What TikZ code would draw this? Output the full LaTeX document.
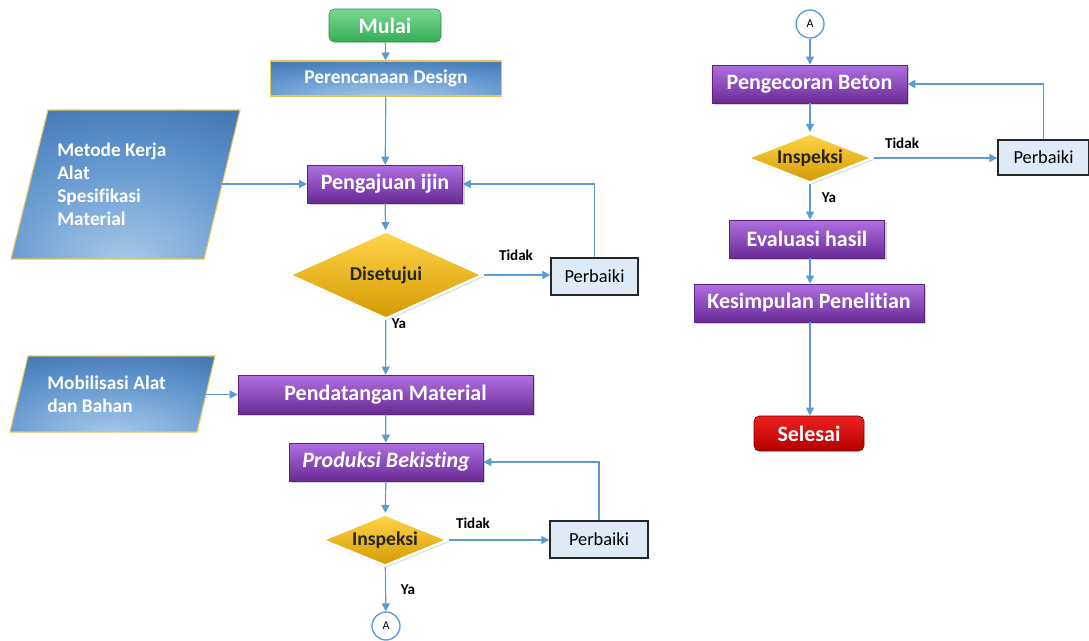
\documentclass[tikz,border=0pt]{standalone}
\usepackage{fontspec}
\setmainfont{Carlito}[Ligatures=NoCommon]
\usetikzlibrary{shapes.geometric,arrows.meta,shadows,calc}
\definecolor{arr}{HTML}{5B9BD5}
\definecolor{purpT}{HTML}{B070E2}
\definecolor{purpB}{HTML}{6A2A94}
\definecolor{goldT}{HTML}{FFD54A}
\definecolor{goldB}{HTML}{D49A00}
\definecolor{blueIn}{HTML}{A9CCEB}
\definecolor{blueMid}{HTML}{5E93CC}
\definecolor{blueOut}{HTML}{2C5D9A}
\definecolor{fixbg}{HTML}{DEEBF7}
\definecolor{greenT}{HTML}{7ADA92}
\definecolor{greenB}{HTML}{35AC55}
\definecolor{redT}{HTML}{F02020}
\definecolor{redB}{HTML}{B00000}
\definecolor{edgeY}{HTML}{E3C65A}
\pgfdeclareradialshading{blueglow}{\pgfpoint{0bp}{-28bp}}{color(0bp)=(blueIn); color(30bp)=(blueMid); color(62bp)=(blueOut); color(100bp)=(blueOut)}
\begin{document}
\begin{tikzpicture}[x=0.75pt,y=-0.75pt,
  a/.style={draw=arr,line width=0.9pt,-{Triangle[length=6pt,width=6pt]}},
  glow/.style={shading=blueglow,draw=edgeY,line width=0.8pt},
  proc/.style={rectangle,minimum height=28.5pt,inner sep=0pt,top color=purpT,bottom color=purpB,
    draw=purpB!85!black,line width=0.5pt,text=white,font=\bfseries\fontsize{16.5}{19}\selectfont,
    drop shadow={opacity=0.35,shadow xshift=1.5pt,shadow yshift=-1.5pt}},
  dec/.style={diamond,inner sep=0pt,aspect=2.5,top color=goldT,bottom color=goldB,draw=white,line width=1.8pt,
    text=black!85,font=\bfseries\fontsize{14.7}{16}\selectfont,
    drop shadow={opacity=0.3,shadow xshift=1pt,shadow yshift=-1.5pt}},
  fixbox/.style={rectangle,draw=black!85,line width=1pt,fill=fixbg,inner sep=0pt,
    minimum height=27.75pt,font=\fontsize{13.8}{16}\selectfont},
  conn/.style={circle,draw=arr,line width=1pt,fill=white,minimum size=21pt,inner sep=0pt,
    font=\fontsize{9}{10}\selectfont},
  term/.style={rectangle,rounded corners=4pt,inner sep=0pt,text=white,
    font=\bfseries\fontsize{16.5}{18}\selectfont},
  lbl/.style={font=\bfseries\fontsize{11.3}{13}\selectfont,text=black,inner sep=0pt},
  intext/.style={text=white,font=\bfseries\fontsize{14.5}{17.2}\selectfont,align=left,inner sep=0pt}
]
\useasboundingbox (0,0) rectangle (1089,640);

% ---------- left column ----------
\node[term,top color=greenT,bottom color=greenB,draw=greenB!80!black,line width=0.4pt,
  minimum width=84pt,minimum height=24.75pt] (mulai) at (385,25.5) {Mulai};
\node[rectangle,glow,
  minimum width=173.25pt,minimum height=26.25pt,inner sep=0pt,text=white,
  font=\bfseries\fontsize{14.6}{16}\selectfont] (plan) at (386,78.5) {Perencanaan Design};

\path[glow] (48,110) -- (240,110) -- (204,259) -- (11,259) -- cycle;
\node[intext,anchor=west] (p1t) at (57,184) {Metode Kerja\\Alat\\Spesifikasi\\Material};
\coordinate (p1r) at (222,184);

\node[proc,minimum width=116.25pt] (ijin) at (385,184) {Pengajuan ijin};
\node[dec,minimum width=145.5pt,minimum height=66pt] (dis) at (386,275) {Disetujui};
\node[fixbox,minimum width=65.25pt] (fix1) at (594.5,276.5) {Perbaiki};
\node[lbl] (t1) at (516,255) {Tidak};
\node[lbl] (y1) at (399,324) {Ya};

\path[glow] (28,356) -- (215,356) -- (197,432) -- (10,432) -- cycle;
\node[intext,anchor=west] (p2t) at (47,394.5) {Mobilisasi Alat\\dan Bahan};
\coordinate (p2r) at (206,394.5);

\node[proc,minimum width=221.25pt,minimum height=29.25pt] (mat) at (385.5,394.5) {Pendatangan Material};
\node[proc,minimum width=145.5pt] (bek) at (386,462) {\itshape Produksi Bekisting};
\node[dec,minimum width=94.5pt,minimum height=39pt] (ins1) at (385,540) {Inspeksi};
\node[fixbox,minimum width=73.5pt] (fix2) at (599,539.5) {Perbaiki};
\node[lbl] (t2) at (473,523) {Tidak};
\node[lbl] (y2) at (408,590) {Ya};
\node[conn] (A1) at (386,626) {A};

% ---------- right column ----------
\node[conn] (A2) at (810,24) {A};
\node[proc,minimum width=146.25pt] (beton) at (809.5,84) {Pengecoran Beton};
\node[dec,minimum width=94.5pt,minimum height=37.5pt] (ins2) at (810,158) {Inspeksi};
\node[fixbox,minimum width=68.25pt,minimum height=26.25pt] (fix3) at (1043.5,157.5) {Perbaiki};
\node[lbl] (t3) at (902,143) {Tidak};
\node[lbl] (y3) at (829,198) {Ya};
\node[proc,minimum width=116.25pt] (eval) at (807,239) {Evaluasi hasil};
\node[proc,minimum width=172.5pt] (kes) at (809,303) {Kesimpulan Penelitian};
\node[term,top color=redT,bottom color=redB,draw=redB!70!black,line width=0.5pt,
  minimum width=82.5pt,minimum height=26.25pt] (sel) at (809,433.5) {Selesai};

% ---------- connectors ----------
\draw[a] (mulai) -- (plan);
\draw[a] (plan) -- (ijin);
\draw[a] (p1r) -- (ijin.west);
\draw[a] (ijin) -- (dis);
\draw[a] (dis.east) -- (dis.east -| fix1.west);
\draw[a] (fix1.north) |- (ijin.east);
\draw[a] (dis) -- (mat);
\draw[a] (p2r) -- (mat.west);
\draw[a] (mat) -- (bek);
\draw[a] (bek) -- (ins1);
\draw[a] (ins1.east) -- (ins1.east -| fix2.west);
\draw[a] (fix2.north) |- (bek.east);
\draw[a] (ins1) -- (A1);

\draw[a] (A2) -- (A2 |- beton.north);
\draw[a] (beton.south -| A2) -- (ins2);
\draw[a] (ins2.east) -- (ins2.east -| fix3.west);
\draw[a] (fix3.north) |- (beton.east);
\draw[a] (ins2) -- (ins2 |- eval.north);
\draw[a] (ins2 |- eval.south) -- (ins2 |- kes.north);
\draw[a] (ins2 |- kes.south) -- (ins2 |- sel.north);
\end{tikzpicture}
\end{document}
